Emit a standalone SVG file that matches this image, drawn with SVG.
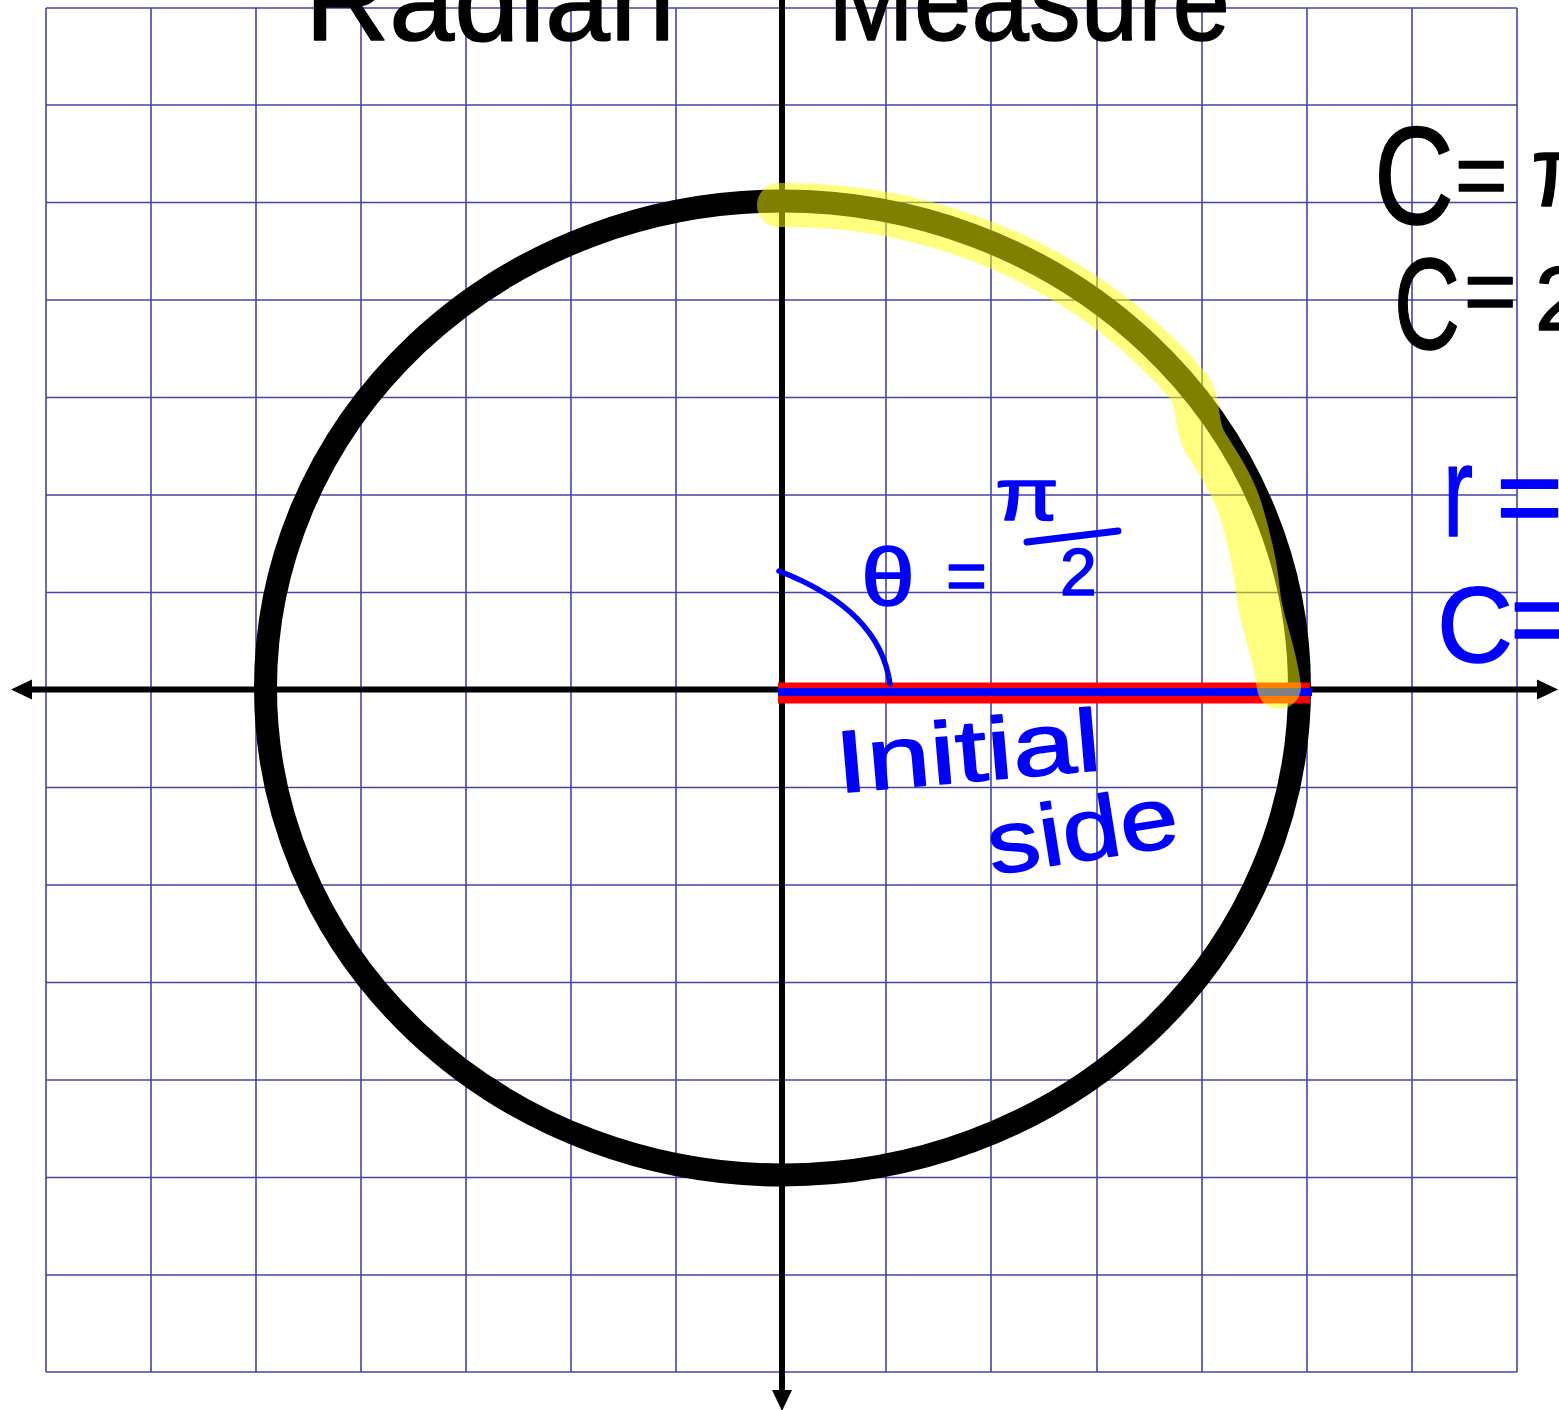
<svg xmlns="http://www.w3.org/2000/svg" width="1559" height="1410" viewBox="0 0 1559 1410">
<style>
.grid line{stroke:#4444aa;stroke-width:1.6}
.axis{stroke:#000;stroke-width:6;fill:none}
.hw{font-family:"Liberation Sans",Arial,sans-serif;stroke-width:1.5;stroke-linejoin:round}
.blk{fill:#000;stroke:#000}
.blu{fill:#0000ff;stroke:#0000ff}
</style>
<defs>
<marker id="arrow" markerUnits="userSpaceOnUse" markerWidth="22" markerHeight="22" viewBox="0 -11 22 22" refX="0" refY="0" orient="auto-start-reverse">
<path d="M0,-10 L21,0 L0,10 Z" fill="#000"/>
</marker>
</defs>
<rect width="1559" height="1410" fill="#fff"/>
<g id="grid" class="grid">
<line x1="46" y1="8" x2="46" y2="1372"/>
<line x1="151" y1="8" x2="151" y2="1372"/>
<line x1="256" y1="8" x2="256" y2="1372"/>
<line x1="361" y1="8" x2="361" y2="1372"/>
<line x1="466" y1="8" x2="466" y2="1372"/>
<line x1="571" y1="8" x2="571" y2="1372"/>
<line x1="676" y1="8" x2="676" y2="1372"/>
<line x1="886" y1="8" x2="886" y2="1372"/>
<line x1="991" y1="8" x2="991" y2="1372"/>
<line x1="1097" y1="8" x2="1097" y2="1372"/>
<line x1="1202" y1="8" x2="1202" y2="1372"/>
<line x1="1307" y1="8" x2="1307" y2="1372"/>
<line x1="1412" y1="8" x2="1412" y2="1372"/>
<line x1="1517" y1="8" x2="1517" y2="1372"/>
<line x1="46" y1="8" x2="1517" y2="8"/>
<line x1="46" y1="105" x2="1517" y2="105"/>
<line x1="46" y1="202.5" x2="1517" y2="202.5"/>
<line x1="46" y1="300" x2="1517" y2="300"/>
<line x1="46" y1="397.5" x2="1517" y2="397.5"/>
<line x1="46" y1="495" x2="1517" y2="495"/>
<line x1="46" y1="592.5" x2="1517" y2="592.5"/>
<line x1="46" y1="787.5" x2="1517" y2="787.5"/>
<line x1="46" y1="885" x2="1517" y2="885"/>
<line x1="46" y1="982.5" x2="1517" y2="982.5"/>
<line x1="46" y1="1080" x2="1517" y2="1080"/>
<line x1="46" y1="1177.5" x2="1517" y2="1177.5"/>
<line x1="46" y1="1275" x2="1517" y2="1275"/>
<line x1="46" y1="1372" x2="1517" y2="1372"/>
</g>
<g id="connectors">
<line id="x-axis" class="axis" x1="32" y1="689.5" x2="1537" y2="689.5" marker-start="url(#arrow)" marker-end="url(#arrow)"/>
<line id="y-axis" class="axis" x1="782" y1="0" x2="782" y2="1390" marker-end="url(#arrow)"/>
</g>
<g id="circle">
<ellipse cx="782.5" cy="688" rx="517" ry="487" fill="none" stroke="#000" stroke-width="23"/>
</g>
<g id="initial-side">
<line x1="778" y1="693" x2="1310" y2="693" stroke="#ff0000" stroke-width="21"/>
<line x1="778" y1="692" x2="1312" y2="692" stroke="#0000ff" stroke-width="8"/>
</g>
<g id="angle">
<path d="M779,571 Q880,610 890,684" fill="none" stroke="#0000ff" stroke-width="5.5" stroke-linecap="round"/>
</g>
<g id="highlight">
<path d="M779,205 A517,487 0 0 1 1190,388 C1200,405 1195,425 1205,442 S1232,482 1240,508 S1255,560 1258,592 S1273,642 1279,687" fill="none" stroke="#ffff00" stroke-opacity="0.5" stroke-width="44" stroke-linecap="round" stroke-linejoin="round"/>
</g>
<g id="title" class="hw blk">
<text x="305" y="40" font-size="115" textLength="370" lengthAdjust="spacingAndGlyphs">Radian</text>
<text x="828" y="40" font-size="115" textLength="402" lengthAdjust="spacingAndGlyphs">Measure</text>
</g>
<g id="label-theta" class="hw blu">
<text x="861" y="605" font-size="82" textLength="54" lengthAdjust="spacingAndGlyphs">θ</text>
<text x="946" y="600" font-size="70">=</text>
<text x="995" y="520" font-size="75" textLength="64" lengthAdjust="spacingAndGlyphs">π</text>
<line x1="1027" y1="542" x2="1118" y2="531" stroke="#0000ff" stroke-width="7" stroke-linecap="round"/>
<text x="1060" y="595" font-size="66">2</text>
</g>
<g id="label-initial" class="hw blu">
<text x="838" y="793" font-size="88" textLength="266" lengthAdjust="spacingAndGlyphs" transform="rotate(-5 838 793)">Initial</text>
<text x="992" y="875" font-size="88" textLength="192" lengthAdjust="spacingAndGlyphs" transform="rotate(-9 992 875)">side</text>
</g>
<g id="formulas" class="hw">
<text class="blk" font-size="90" y="206"><tspan x="1374" y="224" font-size="140" textLength="80" lengthAdjust="spacingAndGlyphs">C</tspan><tspan x="1455" y="206">=</tspan><tspan x="1531" y="206" font-size="100">π</tspan></text>
<text class="blk" font-size="90" y="322"><tspan x="1394" y="349" font-size="130" textLength="66" lengthAdjust="spacingAndGlyphs">C</tspan><tspan x="1464" y="322">=</tspan><tspan x="1535" y="330">2</tspan></text>
<text class="blu" font-size="115" y="536"><tspan x="1443" font-size="130" textLength="30" lengthAdjust="spacingAndGlyphs">r</tspan><tspan x="1496">=</tspan></text>
<text class="blu" font-size="110" y="656"><tspan x="1437" y="662" font-size="108" textLength="76" lengthAdjust="spacingAndGlyphs">C</tspan><tspan x="1510" y="656">=</tspan></text>
</g>
</svg>
